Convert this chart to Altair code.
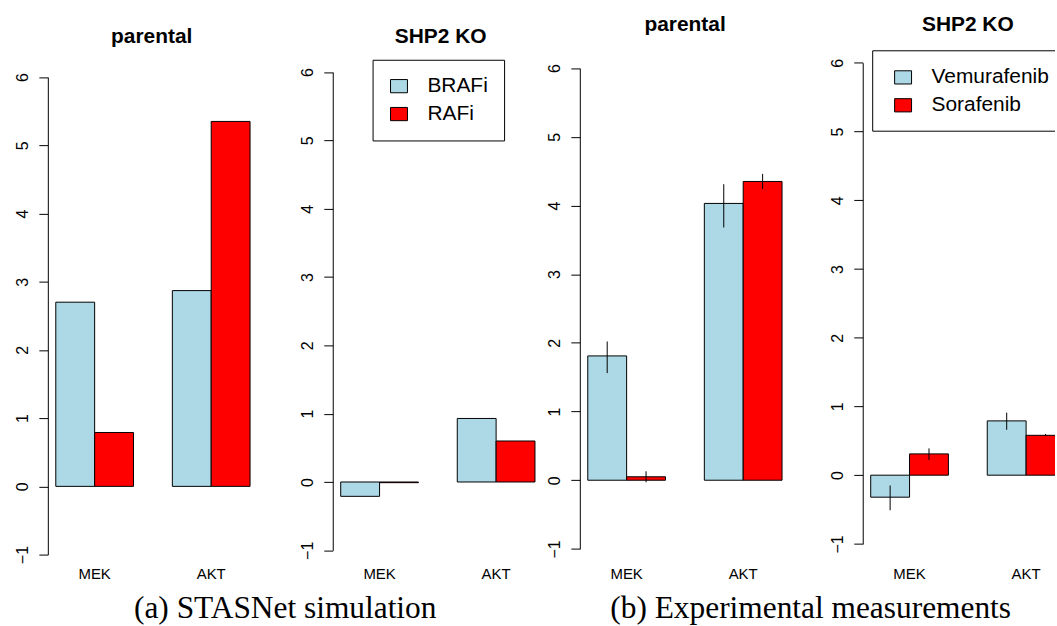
import altair as alt
import pandas as pd

# ---------------- data ----------------
targets = ["MEK", "AKT"]
sim_series = ["BRAFi", "RAFi"]
exp_series = ["Vemurafenib", "Sorafenib"]

sim_parental_brafi = [2.70, 2.87]
sim_parental_rafi = [0.79, 5.35]
sim_ko_brafi = [-0.21, 0.93]
sim_ko_rafi = [-0.01, 0.60]

exp_parental_vem = [1.81, 4.03]
exp_parental_vem_lo = [1.56, 3.68]
exp_parental_vem_hi = [2.02, 4.31]
exp_parental_sor = [0.05, 4.35]
exp_parental_sor_lo = [-0.03, 4.24]
exp_parental_sor_hi = [0.13, 4.46]

exp_ko_vem = [-0.32, 0.79]
exp_ko_vem_lo = [-0.51, 0.66]
exp_ko_vem_hi = [-0.15, 0.91]
exp_ko_sor = [0.31, 0.58]
exp_ko_sor_lo = [0.22, 0.57]
exp_ko_sor_hi = [0.39, 0.60]

y_ticks = [-1, 0, 1, 2, 3, 4, 5, 6]
panel_titles = ["parental", "SHP2 KO", "parental", "SHP2 KO"]
captions = ["(a) STASNet simulation", "(b) Experimental measurements"]
bar_colors = ["#ADD8E6", "#FF0000"]


def frame(series, values_a, values_b, lo_a=None, hi_a=None, lo_b=None, hi_b=None):
    rows = []
    for i, t in enumerate(targets):
        rows.append({"target": t, "series": series[0], "value": values_a[i],
                     "lo": lo_a[i] if lo_a else None, "hi": hi_a[i] if hi_a else None})
        rows.append({"target": t, "series": series[1], "value": values_b[i],
                     "lo": lo_b[i] if lo_b else None, "hi": hi_b[i] if hi_b else None})
    return pd.DataFrame(rows)


FONT = "Liberation Sans"
H = 516


def panel(df, series, title, width, y_range, title_dx, title_offset,
          legend=None, errors=False, caption=None, caption_x=0, caption_y=0,
          box=None):
    x = alt.X("target:N", sort=targets,
              scale=alt.Scale(domain=targets, range=[8, 203], paddingInner=1 / 3, paddingOuter=0),
              axis=alt.Axis(title=None, labelAngle=0, ticks=False, domain=False,
                            labelFont=FONT, labelFontSize=15, labelColor="black",
                            labelPadding=11))
    xo = alt.XOffset("series:N", sort=series,
                     scale=alt.Scale(domain=series, paddingInner=0, paddingOuter=0))
    y = alt.Y("value:Q",
              scale=alt.Scale(domain=[-1, 6], range=y_range, nice=False, zero=False),
              axis=alt.Axis(title=None, values=y_ticks, labelAngle=-90, tickSize=9,
                            labelPadding=11, labelFont=FONT, labelFontSize=16,
                            labelColor="black", domainColor="black", tickColor="black",
                            labelAlign="center", labelBaseline="alphabetic",
                            grid=False, format="d"))
    color = alt.Color("series:N", scale=alt.Scale(domain=series, range=bar_colors),
                      legend=legend)
    base = alt.Chart(df)
    layers = []
    if box:
        frame_rect = alt.Chart(pd.DataFrame({"k": [0]})).mark_rect(
            fill="white", stroke="black", strokeWidth=1, clip=True).encode(
            x=alt.value(box[0]), x2=alt.value(box[1]),
            y=alt.value(box[2]), y2=alt.value(box[3]))
        layers.append(frame_rect)
    bars = base.mark_bar(stroke="black", strokeWidth=1, clip=True).encode(
        x=x, xOffset=xo, y=y, y2=alt.datum(0), color=color)
    layers.append(bars)
    if errors:
        rules = base.mark_rule(color="black", strokeWidth=1, clip=True).encode(
            x=x, xOffset=xo, y=alt.Y("lo:Q"), y2="hi:Q")
        layers.append(rules)
    if caption:
        cap = alt.Chart(pd.DataFrame({"t": [caption]})).mark_text(
            font="Liberation Serif", fontSize=31.5, align="center", baseline="alphabetic",
            color="black").encode(text="t:N", x=alt.value(caption_x), y=alt.value(caption_y))
        layers.append(cap)
    return alt.layer(*layers).properties(
        width=width, height=H,
        title=alt.TitleParams(text=title, font=FONT, fontSize=21, fontWeight="bold",
                              anchor="start", align="center", dx=title_dx,
                              offset=title_offset, frame="group", color="black"))


def make_legend(lx, ly, boxed=True):
    opts = dict(orient="none", legendX=lx, legendY=ly, title=None,
                labelFont=FONT, labelFontSize=21, labelColor="black",
                symbolType="M-1,-0.78H1V0.78H-1Z", symbolSize=289,
                symbolStrokeColor="black", symbolStrokeWidth=1,
                labelOffset=18, rowPadding=6)
    if boxed:
        opts.update(strokeColor="black", fillColor="white", padding=16)
    else:
        opts.update(padding=0)
    return alt.Legend(**opts)


df1 = frame(sim_series, sim_parental_brafi, sim_parental_rafi)
df2 = frame(sim_series, sim_ko_brafi, sim_ko_rafi)
df3 = frame(exp_series, exp_parental_vem, exp_parental_sor,
            exp_parental_vem_lo, exp_parental_vem_hi, exp_parental_sor_lo, exp_parental_sor_hi)
df4 = frame(exp_series, exp_ko_vem, exp_ko_sor,
            exp_ko_vem_lo, exp_ko_vem_hi, exp_ko_sor_lo, exp_ko_sor_hi)

p1 = panel(df1, sim_series, panel_titles[0], 285.3, [515, 35.7], 104.3, -5.5,
           caption=captions[0], caption_x=238.3, caption_y=579)
p2 = panel(df2, sim_series, panel_titles[1], 247.3, [510.7, 30.7], 108.3, -5.5,
           legend=make_legend(40, 18.3))
p3 = panel(df3, exp_series, panel_titles[2], 284, [509.3, 26.7], 105.7, 6.5,
           errors=True, caption=captions[1], caption_x=231.7, caption_y=579)
p4 = panel(df4, exp_series, panel_titles[3], 193, [504.3, 21.3], 105.5, 6.5,
           errors=True, legend=make_legend(30, 25.5, boxed=False),
           box=(10, 400, 9.3, 90))

chart = alt.hconcat(p1, p2, p3, p4, spacing=0, bounds="flush").resolve_scale(
    x="independent", y="independent", color="independent", xOffset="independent"
).resolve_legend(color="independent").properties(
    padding={"left": 14, "top": 12.5, "right": 0, "bottom": 0},
    background="white",
).configure_view(stroke=None)

chart.save("out.html", embed_options={"renderer": "svg", "actions": False})
